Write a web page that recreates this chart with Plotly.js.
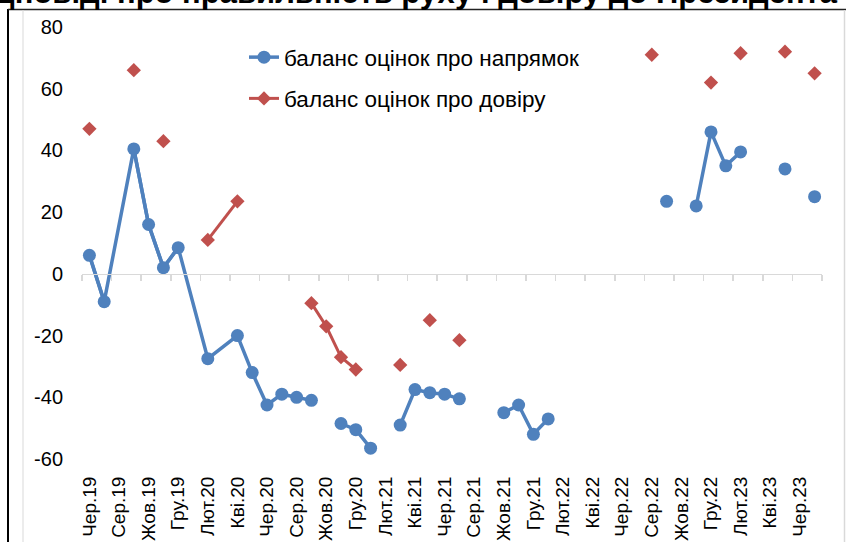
<!DOCTYPE html>
<html>
<head>
<meta charset="utf-8">
<script src="https://cdn.plot.ly/plotly-3.0.1.min.js"></script>
<style>html,body{margin:0;padding:0;background:#fff;}#chart{width:846px;height:542px;}</style>
</head>
<body>
<div id="chart"></div>
<script>
// ---- data ----
const categories = ["Чер.19","Лип.19","Сер.19","Вер.19","Жов.19","Лис.19","Гру.19",
  "Січ.20","Лют.20","Бер.20","Кві.20","Тра.20","Чер.20","Лип.20","Сер.20","Вер.20","Жов.20","Лис.20","Гру.20",
  "Січ.21","Лют.21","Бер.21","Кві.21","Тра.21","Чер.21","Лип.21","Сер.21","Вер.21","Жов.21","Лис.21","Гру.21",
  "Січ.22","Лют.22","Бер.22","Кві.22","Тра.22","Чер.22","Лип.22","Сер.22","Вер.22","Жов.22","Лис.22","Гру.22",
  "Січ.23","Лют.23","Бер.23","Кві.23","Тра.23","Чер.23","Лип.23"];

const directionBalance = [6, -9, null, 40.5, 16, 2, 8.5,
  null, -27.5, null, -20, -32, -42.5, -39, -40, -41, null, -48.5, -50.5,
  -56.5, null, -49, -37.5, -38.5, -39, -40.5, null, null, -45, -42.5, -52,
  -47, null, null, null, null, null, null, null, 23.5, null, 22, 46,
  35, 39.5, null, null, 34, null, 25];

const trustBalance = [47, null, null, 66, null, 43, null,
  null, 11, null, 23.5, null, null, null, null, -9.5, -17, -27, -31,
  null, null, -29.5, null, -15, null, -21.5, null, null, null, null, null,
  null, null, null, null, null, null, null, 71, null, null, null, 62,
  null, 71.5, null, null, 72, null, 65];

// spans in which missing months are bridged by the line
const directionBridged = ["Чер.19", "Кві.20"];
const trustBridged = ["Лют.20", "Кві.20"];

const yTickVals = [-60, -40, -20, 0, 20, 40, 60, 80];
const yTickText = ["-60", "-40", "-20", "0", "20", "40", "60", "80"];

const seriesNames = ["баланс оцінок про напрямок", "баланс оцінок про довіру"];
const titleText = "Відповіді про правильність руху і довіру до Президента";

// ---- styles ----
const BLUE = "#4f81bd", RED = "#c0504d";
const FONT = "Arial, 'Liberation Sans', sans-serif";

function span(vals, range) {
  const a = categories.indexOf(range[0]), b = categories.indexOf(range[1]);
  return {x: categories.slice(a, b + 1), y: vals.slice(a, b + 1)};
}

const bBridge = span(directionBalance, directionBridged);
const rBridge = span(trustBalance, trustBridged);

const traces = [
  {x: bBridge.x, y: bBridge.y, mode: "lines", connectgaps: true, showlegend: false,
   line: {color: BLUE, width: 3.5}, hoverinfo: "skip"},
  {x: rBridge.x, y: rBridge.y, mode: "lines", connectgaps: true, showlegend: false,
   line: {color: RED, width: 3}, hoverinfo: "skip"},
  {x: categories, y: directionBalance, name: seriesNames[0], mode: "lines+markers", connectgaps: false,
   legendgroup: "a", line: {color: BLUE, width: 3.5}, marker: {symbol: "circle", size: 13, color: BLUE}},
  {x: categories, y: trustBalance, name: seriesNames[1], mode: "lines+markers", connectgaps: false,
   legendgroup: "b", line: {color: RED, width: 3}, marker: {symbol: "diamond", size: 11, color: RED}},
  {x: [0], y: [null], xaxis: "x2", yaxis: "y", mode: "lines", showlegend: false, hoverinfo: "skip"}
];

// pixel helpers for frame decoration
const L = 82, W = 740, T = 27, H = 432;
const px = v => (v - L) / W;
const py = v => (T + H - v) / H;

const layout = {
  width: 846, height: 542,
  margin: {l: L, r: 846 - L - W, t: T, b: 542 - T - H},
  paper_bgcolor: "#fff", plot_bgcolor: "#fff",
  font: {family: FONT, color: "#000"},
  showlegend: true,
  legend: {x: px(244), y: py(36), xanchor: "left", yanchor: "top",
    font: {size: 22.5, family: FONT, color: "#000"}, traceorder: "grouped", tracegroupgap: 9,
    bgcolor: "rgba(0,0,0,0)"},
  xaxis: {type: "category", categoryorder: "array", categoryarray: categories,
    range: [-0.5, categories.length - 0.5], tickmode: "linear", tick0: 0, dtick: 2,
    tickangle: -90, tickfont: {size: 19, family: FONT, color: "#000"},
    showgrid: false, zeroline: false, showline: false,
    ticks: "outside", ticklen: 9, tickcolor: "rgba(0,0,0,0)"},
  xaxis2: {overlaying: "x", anchor: "free", position: 60 / 140, type: "linear",
    range: [-0.5, categories.length - 0.5], tickmode: "linear", tick0: -0.5, dtick: 2,
    ticks: "outside", ticklen: 6, tickcolor: "#d9d9d9", tickwidth: 1.5,
    showticklabels: false, showline: true, linecolor: "#d9d9d9", linewidth: 1.5,
    showgrid: false, zeroline: false},
  yaxis: {range: [-60, 80], tickmode: "array", tickvals: yTickVals, ticktext: yTickText,
    showgrid: false, zeroline: false, showline: false,
    ticks: "outside", ticklen: 14, tickcolor: "rgba(0,0,0,0)",
    tickfont: {size: 20, family: FONT, color: "#000"}},
  annotations: [{text: "<b>" + titleText + "</b>", xref: "paper", yref: "paper",
    x: px(840), y: py(12.5), xanchor: "right", yanchor: "bottom", showarrow: false,
    font: {size: 31, family: FONT, color: "#000"}}],
  shapes: [
    {type: "line", xref: "paper", yref: "paper", x0: px(8), x1: px(8), y0: py(9), y1: py(545), line: {color: "#000", width: 2}},
    {type: "line", xref: "paper", yref: "paper", x0: px(8), x1: px(850), y0: py(9.5), y1: py(9.5), line: {color: "#222", width: 1.5}},
    {type: "line", xref: "paper", yref: "paper", x0: px(23), x1: px(23), y0: py(10), y1: py(545), line: {color: "#d9d9d9", width: 1}},
    {type: "line", xref: "paper", yref: "paper", x0: px(844.5), x1: px(844.5), y0: py(10), y1: py(545), line: {color: "#d9d9d9", width: 1.5}}
  ]
};

Plotly.newPlot("chart", traces, layout, {displayModeBar: false, staticPlot: true});
</script>
</body>
</html>
